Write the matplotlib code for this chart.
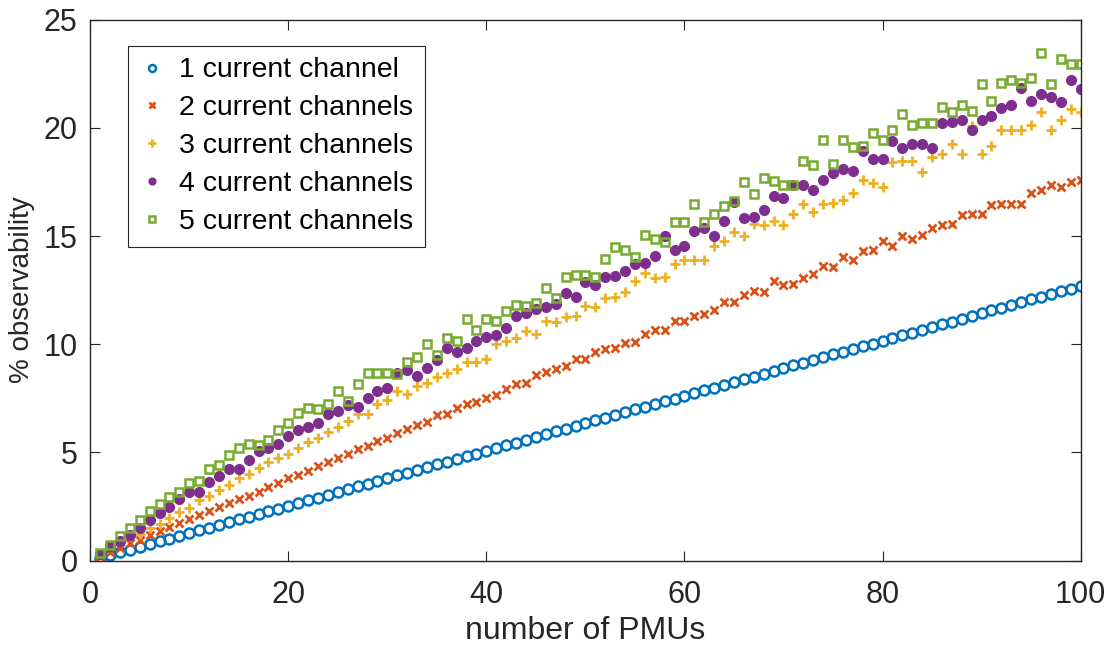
import matplotlib
matplotlib.use("Agg")
import matplotlib.pyplot as plt
import numpy as np

plt.rcParams['font.family'] = ['Liberation Sans', 'DejaVu Sans']

# number of PMUs placed
pmus = np.arange(1, 101)

# % observability for 1..5 current channels per PMU
obs_1ch = [0.13, 0.25, 0.38, 0.51, 0.64, 0.76, 0.89, 1.02, 1.14, 1.27,
           1.40, 1.52, 1.65, 1.78, 1.91, 2.03, 2.16, 2.29, 2.41, 2.54,
           2.67, 2.79, 2.92, 3.05, 3.18, 3.30, 3.43, 3.56, 3.68, 3.81,
           3.94, 4.06, 4.19, 4.32, 4.45, 4.57, 4.70, 4.83, 4.95, 5.08,
           5.21, 5.33, 5.46, 5.59, 5.72, 5.84, 5.97, 6.10, 6.22, 6.35,
           6.48, 6.60, 6.73, 6.86, 6.99, 7.11, 7.24, 7.37, 7.49, 7.62,
           7.75, 7.87, 8.00, 8.13, 8.26, 8.38, 8.51, 8.64, 8.76, 8.89,
           9.02, 9.14, 9.27, 9.40, 9.53, 9.65, 9.78, 9.91, 10.03, 10.16,
           10.29, 10.41, 10.54, 10.67, 10.80, 10.92, 11.05, 11.18, 11.30, 11.43,
           11.56, 11.68, 11.81, 11.94, 12.07, 12.19, 12.32, 12.45, 12.57, 12.70]

obs_2ch = [0.19, 0.40, 0.60, 0.80, 0.98, 1.17, 1.36, 1.55, 1.75, 1.93,
           2.10, 2.28, 2.46, 2.65, 2.83, 3.00, 3.19, 3.42, 3.60, 3.80,
           3.96, 4.14, 4.38, 4.58, 4.73, 4.91, 5.15, 5.30, 5.53, 5.69,
           5.89, 6.07, 6.27, 6.40, 6.72, 6.77, 7.04, 7.23, 7.35, 7.54,
           7.66, 7.92, 8.16, 8.23, 8.59, 8.70, 8.85, 9.00, 9.31, 9.31,
           9.62, 9.80, 9.82, 10.04, 10.09, 10.47, 10.66, 10.66, 11.09, 11.09,
           11.32, 11.40, 11.58, 11.94, 11.94, 12.29, 12.48, 12.40, 12.92, 12.74,
           12.79, 13.06, 13.25, 13.60, 13.56, 14.02, 13.87, 14.33, 14.36, 14.76,
           14.56, 14.99, 14.87, 15.07, 15.36, 15.52, 15.55, 15.95, 16.00, 16.04,
           16.45, 16.46, 16.46, 16.49, 17.00, 17.11, 17.38, 17.26, 17.48, 17.60]

obs_3ch = [0.30, 0.67, 0.90, 1.13, 1.22, 1.49, 1.70, 1.99, 2.26, 2.42,
           2.79, 2.99, 3.25, 3.50, 3.80, 4.02, 4.30, 4.58, 4.73, 4.95,
           5.22, 5.50, 5.69, 5.96, 6.18, 6.46, 6.77, 6.77, 7.26, 7.42,
           7.82, 7.69, 8.08, 8.23, 8.50, 8.65, 8.85, 9.16, 9.16, 9.31,
           10.01, 10.13, 10.29, 10.59, 10.47, 11.06, 11.01, 11.27, 11.32, 11.78,
           11.74, 12.14, 12.20, 12.40, 12.94, 13.28, 13.06, 13.09, 13.71, 13.87,
           13.90, 13.90, 14.56, 14.76, 15.18, 14.98, 15.56, 15.49, 15.68, 15.49,
           16.03, 16.49, 16.10, 16.49, 16.52, 16.67, 16.98, 17.60, 17.45, 17.26,
           18.42, 18.46, 18.46, 17.95, 18.65, 18.81, 19.24, 18.80, 20.07, 18.80,
           19.14, 19.88, 19.90, 19.88, 20.12, 20.73, 19.88, 20.35, 20.89, 20.73]

obs_4ch = [0.30, 0.66, 0.90, 1.21, 1.52, 1.86, 2.19, 2.50, 2.83, 3.19,
           3.19, 3.65, 3.91, 4.22, 4.22, 4.64, 5.05, 5.19, 5.38, 5.76,
           6.03, 6.18, 6.38, 6.77, 6.92, 7.20, 7.11, 7.51, 7.82, 8.00,
           8.65, 8.80, 8.54, 8.90, 9.25, 9.82, 9.62, 9.82, 10.13, 10.35,
           10.44, 10.75, 11.32, 11.43, 11.63, 11.70, 11.86, 12.35, 12.20, 12.86,
           12.75, 13.09, 13.17, 13.37, 13.71, 13.74, 14.10, 15.02, 14.36, 14.56,
           15.22, 15.38, 15.02, 15.69, 16.57, 15.84, 15.87, 16.18, 16.85, 16.77,
           17.38, 17.34, 17.14, 17.60, 17.91, 18.08, 18.00, 18.93, 18.57, 18.57,
           19.39, 19.08, 19.27, 19.24, 19.06, 20.24, 20.25, 20.35, 19.88, 20.38,
           20.53, 20.93, 21.03, 21.86, 21.23, 21.55, 21.40, 21.17, 22.23, 21.81]

obs_5ch = [0.36, 0.74, 1.13, 1.50, 1.86, 2.29, 2.63, 2.94, 3.19, 3.60,
           3.68, 4.22, 4.42, 4.88, 5.19, 5.38, 5.33, 5.56, 6.03, 6.38,
           6.84, 7.07, 7.00, 7.23, 7.82, 7.38, 8.16, 8.65, 8.65, 8.65,
           8.62, 9.16, 9.39, 10.02, 9.51, 10.29, 10.16, 11.17, 10.67, 11.17,
           11.09, 11.52, 11.83, 11.78, 11.91, 12.60, 12.14, 13.13, 13.22, 13.22,
           13.11, 13.94, 14.51, 14.36, 14.05, 15.07, 14.87, 14.71, 15.64, 15.67,
           16.49, 15.64, 16.00, 16.37, 16.61, 17.49, 16.95, 17.70, 17.52, 17.34,
           17.34, 18.46, 18.26, 19.45, 18.31, 19.45, 19.11, 19.14, 19.76, 19.45,
           19.88, 20.63, 20.12, 20.24, 20.20, 20.95, 20.73, 21.04, 20.78, 22.01,
           21.24, 22.05, 22.20, 22.08, 22.32, 23.46, 22.01, 23.20, 22.97, 22.97]

labels = ['1 current channel', '2 current channels', '3 current channels',
          '4 current channels', '5 current channels']

fig = plt.figure(figsize=(11.14, 6.52), dpi=100)
ax = fig.add_axes([0.081, 0.140, 0.889, 0.830])

ax.plot(pmus, obs_1ch, 'o', ls='none', mfc='none', mec='#0072BD', mew=1.8, ms=7.2, label=labels[0])
ax.plot(pmus, obs_2ch, 'x', ls='none', color='#D95319', mew=2.0, ms=6, label=labels[1])
ax.plot(pmus, obs_3ch, '+', ls='none', color='#EDB120', mew=2.0, ms=7.5, label=labels[2])
ax.plot(pmus, obs_4ch, 'o', ls='none', mfc='#7E2F8E', mec='#7E2F8E', mew=1, ms=7, label=labels[3])
ax.plot(pmus, obs_5ch, 's', ls='none', mfc='none', mec='#77AC30', mew=1.8, ms=6.2, label=labels[4])

ax.set_xlim(0, 100)
ax.set_ylim(0, 25)
ax.set_xticks([0, 20, 40, 60, 80, 100])
ax.set_yticks([0, 5, 10, 15, 20, 25])

for s in ax.spines.values():
    s.set_color('#262626')
    s.set_linewidth(1.0)
ax.tick_params(direction='in', top=True, right=True, length=7, width=0.8,
               colors='#262626', labelsize=22)
ax.tick_params(axis='x', pad=14)
ax.tick_params(axis='y', pad=9)

ax.set_xlabel('number of PMUs', fontsize=23, color='#262626', labelpad=4)
ax.set_ylabel('% observability', fontsize=20, color='#262626', labelpad=6)

leg = ax.legend(loc='upper left', bbox_to_anchor=(0.038, 0.951), borderaxespad=0,
                fontsize=20.5, markerscale=0.7, handlelength=0.9, handletextpad=0.5,
                labelspacing=0.42, fancybox=False, framealpha=1, borderpad=0.4)
leg.get_frame().set_edgecolor('#262626')
leg.get_frame().set_linewidth(0.8)

fig.savefig('out.png', dpi=100)
